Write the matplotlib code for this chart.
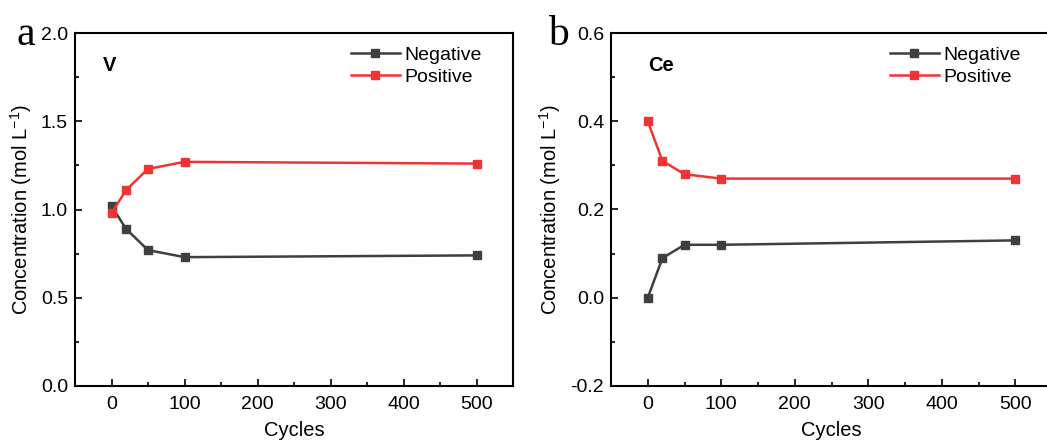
import numpy as np
import matplotlib.pyplot as plt
from matplotlib.ticker import MultipleLocator

plt.rcParams['font.family'] = ['Liberation Sans', 'DejaVu Sans']
plt.rcParams['mathtext.default'] = 'regular'

# Dados
cycles = [0, 20, 50, 100, 500]
v_negative = [1.02, 0.89, 0.77, 0.73, 0.74]
v_positive = [0.98, 1.11, 1.23, 1.27, 1.26]
ce_negative = [0.0, 0.09, 0.12, 0.12, 0.13]
ce_positive = [0.40, 0.31, 0.28, 0.27, 0.27]

gray = '#3f3f3f'
red = '#f03434'

fig = plt.figure(figsize=(10.47, 4.45), dpi=100)
W, H = 1047, 445
ax1 = fig.add_axes([75 / W, 59 / H, 438 / W, 353 / H])
ax2 = fig.add_axes([611 / W, 59 / H, 441 / W, 353 / H])

def style(ax, neg, pos, ylim, major, minor, tag, tag_x):
    ax.plot(cycles, neg, '-s', color=gray, lw=1.8, ms=5.5, label='Negative')
    ax.plot(cycles, pos, '-s', color=red, lw=1.8, ms=5.5, label='Positive')
    ax.set_xlim(-50, 550)
    ax.set_ylim(*ylim)
    ax.xaxis.set_major_locator(MultipleLocator(100))
    ax.xaxis.set_minor_locator(MultipleLocator(50))
    ax.yaxis.set_major_locator(MultipleLocator(major))
    ax.yaxis.set_minor_locator(MultipleLocator(minor))
    ax.tick_params(which='both', direction='in', top=False, right=False,
                   labelsize=14, width=1.2)
    ax.tick_params(which='major', length=5)
    ax.tick_params(axis='x', which='major', pad=7)
    ax.tick_params(axis='y', which='major', pad=5)
    ax.tick_params(which='minor', length=3)
    for s in ax.spines.values():
        s.set_linewidth(1.5)
    ax.set_xlabel('Cycles', fontsize=14.5, labelpad=6)
    ax.set_ylabel('Concentration (mol L$^{-1}$)', fontsize=14.5, labelpad=5)
    ax.text(tag_x, 0.935, tag, transform=ax.transAxes, fontsize=14.5,
            fontweight='bold', va='top', ha='left')
    ax.legend(loc='upper right', fontsize=14, frameon=False,
              handlelength=2.5, handletextpad=0.25, labelspacing=0.2,
              borderaxespad=0.5, borderpad=0.2, bbox_to_anchor=(0.96, 1.0))

style(ax1, v_negative, v_positive, (0.0, 2.0), 0.5, 0.25, 'V', 0.064)
ax1.yaxis.set_major_formatter(plt.FormatStrFormatter('%.1f'))
style(ax2, ce_negative, ce_positive, (-0.2, 0.6), 0.2, 0.1, 'Ce', 0.084)
ax2.yaxis.set_major_formatter(plt.FormatStrFormatter('%.1f'))

fig.text(17 / W, 1 - 45 / H, 'a', fontsize=30, family='Liberation Serif')
fig.text(548 / W, 1 - 45 / H, 'b', fontsize=30, family='Liberation Serif')

fig.savefig('out.png', dpi=100)
